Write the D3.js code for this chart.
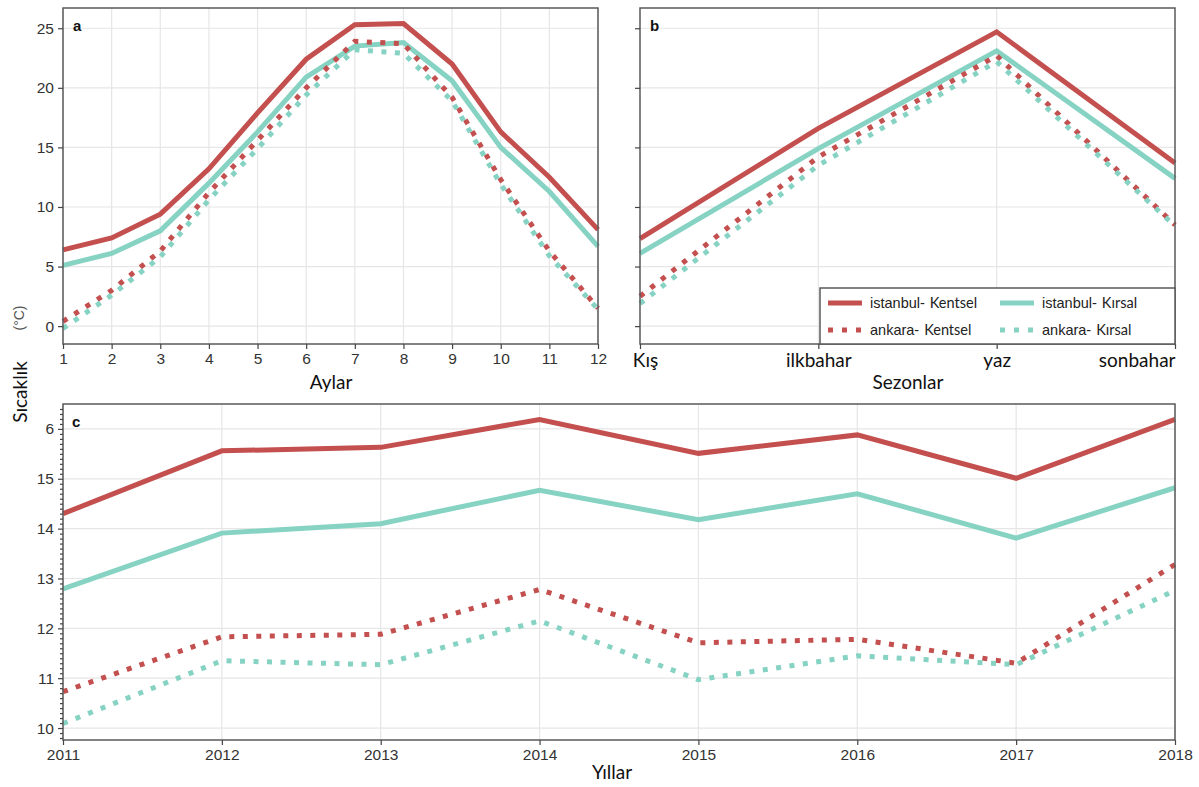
<!DOCTYPE html>
<html><head><meta charset="utf-8">
<script src="https://cdn.jsdelivr.net/npm/d3@7"></script>
<style>
html,body{margin:0;padding:0;background:#fff;}
svg{display:block;}
.ttl{font-family:Lato,"Open Sans",sans-serif;font-size:19px;fill:#111;}
</style></head>
<body>
<svg id="c" width="1199" height="787"></svg>
<script>
// ---- data ----
const months = [1,2,3,4,5,6,7,8,9,10,11,12];
const istKentselMonthly = [6.4,7.4,9.4,13.2,17.9,22.4,25.3,25.4,22.0,16.3,12.5,8.1];
const istKirsalMonthly  = [5.1,6.1,8.0,12.0,16.3,20.9,23.5,23.8,20.6,15.0,11.3,6.7];
const ankKentselMonthly = [0.4,3.0,6.3,11.2,15.6,20.0,23.9,23.7,19.2,12.3,6.3,1.5];
const ankKirsalMonthly  = [-0.2,2.6,5.8,10.6,14.9,19.4,23.2,22.9,18.9,11.9,5.9,1.4];

const seasons = ["Kış","ilkbahar","yaz","sonbahar"];
const istKentselSeason = [7.35,16.6,24.7,13.7];
const istKirsalSeason  = [6.1,14.9,23.1,12.4];
const ankKentselSeason = [2.5,14.2,22.7,8.5];
const ankKirsalSeason  = [1.9,13.5,22.2,8.4];

const years = [2011,2012,2013,2014,2015,2016,2017,2018];
const istKentselYear = [14.3,15.56,15.63,16.19,15.51,15.88,15.01,16.19];
const istKirsalYear  = [12.79,13.91,14.1,14.77,14.18,14.7,13.81,14.82];
const ankKentselYear = [10.73,11.83,11.88,12.78,11.71,11.78,11.3,13.28];
const ankKirsalYear  = [10.09,11.35,11.27,12.15,10.97,11.45,11.27,12.76];

const yTicksAB = [0,5,10,15,20,25];
const yTickValuesC = [10,11,12,13,14,15,16];
const yTickLabelsC = ["10","11","12","13","14","15","6"];

const legendNames = [["istanbul-","Kentsel"],["istanbul-","Kırsal"],["ankara-","Kentsel"],["ankara-","Kırsal"]];

// ---- styles ----
const RED = "#c44f4f", TEAL = "#86d3c3";
const seriesStyle = [
  {color:RED, dash:null},
  {color:TEAL, dash:null},
  {color:RED, dash:"5 8.5"},
  {color:TEAL, dash:"5 8.5"}
];
const svg = d3.select("#c");

function frame(g, x0, y0, x1, y1) {
  g.append("rect").attr("x",x0).attr("y",y0).attr("width",x1-x0).attr("height",y1-y0)
   .attr("fill","none").attr("stroke","#5a5a5a").attr("stroke-width",1.5);
}
function gridH(g, y, vals, x0, x1){
  g.selectAll(null).data(vals).join("line")
   .attr("x1",x0).attr("x2",x1).attr("y1",d=>y(d)).attr("y2",d=>y(d))
   .attr("stroke","#e6e6e6").attr("stroke-width",1.2);
}
function gridV(g, xpos, vals, y0, y1){
  g.selectAll(null).data(vals).join("line")
   .attr("x1",d=>xpos(d)).attr("x2",d=>xpos(d)).attr("y1",y0).attr("y2",y1)
   .attr("stroke","#e6e6e6").attr("stroke-width",1.2);
}
function drawSeries(g, xs, xpos, y, list){
  list.forEach((vals,i)=>{
    const st = seriesStyle[i];
    const line = d3.line().x((d,j)=>xpos(xs[j])).y(d=>y(d));
    g.append("path").datum(vals).attr("d",line)
     .attr("fill","none").attr("stroke",st.color).attr("stroke-width",5)
     .attr("stroke-linejoin","miter").attr("stroke-linecap","butt")
     .attr("stroke-dasharray",st.dash);
  });
}
function styleAxis(ax){
  ax.select(".domain").remove();
  ax.attr("font-family",null).attr("font-size",null);
  ax.selectAll(".tick line").attr("stroke","#444").attr("stroke-width",1.2);
  ax.selectAll(".tick text").style("font-family","'Liberation Sans', Arial, sans-serif")
    .style("font-size","15.5px").style("fill","#333");
}

// ===== Panel a =====
{
  const L=63,R=598,T=8,B=344;
  const x = d3.scaleLinear().domain([1,12]).range([L,R]);
  const y = d3.scaleLinear().domain([-1.5,26.7]).range([B,T]);
  const g = svg.append("g");
  gridH(g,y,yTicksAB,L,R);
  gridV(g,x,months,T,B);
  drawSeries(g,months,x,y,[istKentselMonthly,istKirsalMonthly,ankKentselMonthly,ankKirsalMonthly]);
  frame(g,L,T,R,B);
  const ya = g.append("g").attr("transform",`translate(${L},0)`)
    .call(d3.axisLeft(y).tickValues(yTicksAB).tickSize(5).tickPadding(4));
  styleAxis(ya);
  const xa = g.append("g").attr("transform",`translate(0,${B})`)
    .call(d3.axisBottom(x).tickValues(months).tickFormat(d3.format("d")).tickSize(5).tickPadding(4));
  styleAxis(xa);
  g.append("text").attr("x",73).attr("y",31).text("a")
   .attr("font-family","Liberation Sans,Arial").attr("font-weight","bold").attr("font-size",15).attr("fill","#111");
  g.append("text").attr("class","ttl").attr("x",331).attr("y",389).attr("text-anchor","middle").text("Aylar");
}

// ===== Panel b =====
{
  const L=640,R=1175,T=8,B=344;
  const x = d3.scalePoint().domain(seasons).range([L,R]).padding(0);
  const y = d3.scaleLinear().domain([-1.5,26.7]).range([B,T]);
  const g = svg.append("g");
  gridH(g,y,yTicksAB,L,R);
  gridV(g,x,seasons.slice(1,3),T,B);
  drawSeries(g,seasons,x,y,[istKentselSeason,istKirsalSeason,ankKentselSeason,ankKirsalSeason]);
  frame(g,L,T,R,B);
  const ya = g.append("g").attr("transform",`translate(${L},0)`)
    .call(d3.axisLeft(y).tickValues(yTicksAB).tickSize(5).tickFormat(""));
  styleAxis(ya);
  const xa = g.append("g").attr("transform",`translate(0,${B})`)
    .call(d3.axisBottom(x).tickSize(5).tickPadding(4));
  styleAxis(xa);
  xa.selectAll(".tick text")
    .style("font-family","Lato, 'Open Sans', sans-serif").style("font-size","19px").style("fill","#111")
    .attr("dy",null).attr("y",23)
    .attr("text-anchor",(d,i)=> i===3 ? "end" : "middle")
    .attr("dx",(d,i)=> i===0 ? 5 : 0);
  g.append("text").attr("x",650).attr("y",31).text("b")
   .attr("font-family","Liberation Sans,Arial").attr("font-weight","bold").attr("font-size",15).attr("fill","#111");
  g.append("text").attr("class","ttl").attr("x",908).attr("y",389).attr("text-anchor","middle").text("Sezonlar");

  // legend
  const lg = g.append("g");
  lg.append("rect").attr("x",820).attr("y",288).attr("width",R-820).attr("height",B-288)
    .attr("fill","#fff").attr("stroke","#5a5a5a").attr("stroke-width",1.5);
  const pos = [[828,303],[1000,303],[828,330],[1000,330]];
  legendNames.forEach((nm,i)=>{
    const [lx,ly]=pos[i]; const st=seriesStyle[i];
    lg.append("line").attr("x1",lx).attr("x2",lx+34).attr("y1",ly).attr("y2",ly)
      .attr("stroke",st.color).attr("stroke-width",5).attr("stroke-dasharray",st.dash ? "5 9":null);
    const t = lg.append("text").attr("x",lx+42).attr("y",ly+5).attr("fill","#222");
    t.append("tspan").attr("font-family","Liberation Sans,Arial").attr("font-size",14.5).text(nm[0]);
    t.append("tspan").attr("font-family","Lato,Open Sans,sans-serif").attr("font-size",14.5).attr("dx",5).text(nm[1]);
  });
}

// ===== Panel c =====
{
  const L=63,R=1175,T=404,B=740;
  const x = d3.scaleLinear().domain([2011,2018]).range([L,R]);
  const y = d3.scaleLinear().domain([9.76,16.5]).range([B,T]);
  const g = svg.append("g");
  gridH(g,y,yTickValuesC,L,R);
  gridV(g,x,years,T,B);
  drawSeries(g,years,x,y,[istKentselYear,istKirsalYear,ankKentselYear,ankKirsalYear]);
  frame(g,L,T,R,B);
  const minor = d3.range(98,165).map(v=>v/10).filter(v=>Math.abs(v-Math.round(v))>0.01);
  const ym = g.append("g").attr("transform",`translate(${L},0)`)
    .call(d3.axisLeft(y).tickValues(minor).tickSize(3).tickFormat(""));
  styleAxis(ym);
  const ya = g.append("g").attr("transform",`translate(${L},0)`)
    .call(d3.axisLeft(y).tickValues(yTickValuesC).tickSize(5).tickPadding(4)
      .tickFormat((d,i)=>yTickLabelsC[i]));
  styleAxis(ya);
  const xa = g.append("g").attr("transform",`translate(0,${B})`)
    .call(d3.axisBottom(x).tickValues(years).tickFormat(d3.format("d")).tickSize(5).tickPadding(4));
  styleAxis(xa);
  g.append("text").attr("x",72).attr("y",427).text("c")
   .attr("font-family","Liberation Sans,Arial").attr("font-weight","bold").attr("font-size",15).attr("fill","#111");
  g.append("text").attr("class","ttl").attr("x",612).attr("y",779).attr("text-anchor","middle").text("Yıllar");
}

// y-axis title
svg.append("text").attr("class","ttl").attr("transform","translate(27,392) rotate(-90)")
  .attr("text-anchor","middle").text("Sıcaklık");
svg.append("text").attr("transform","translate(24,318) rotate(-90)")
  .attr("text-anchor","middle").attr("font-family","Liberation Sans,Arial").attr("font-size",14)
  .attr("fill","#555").text("(°C)");
</script>
</body></html>
